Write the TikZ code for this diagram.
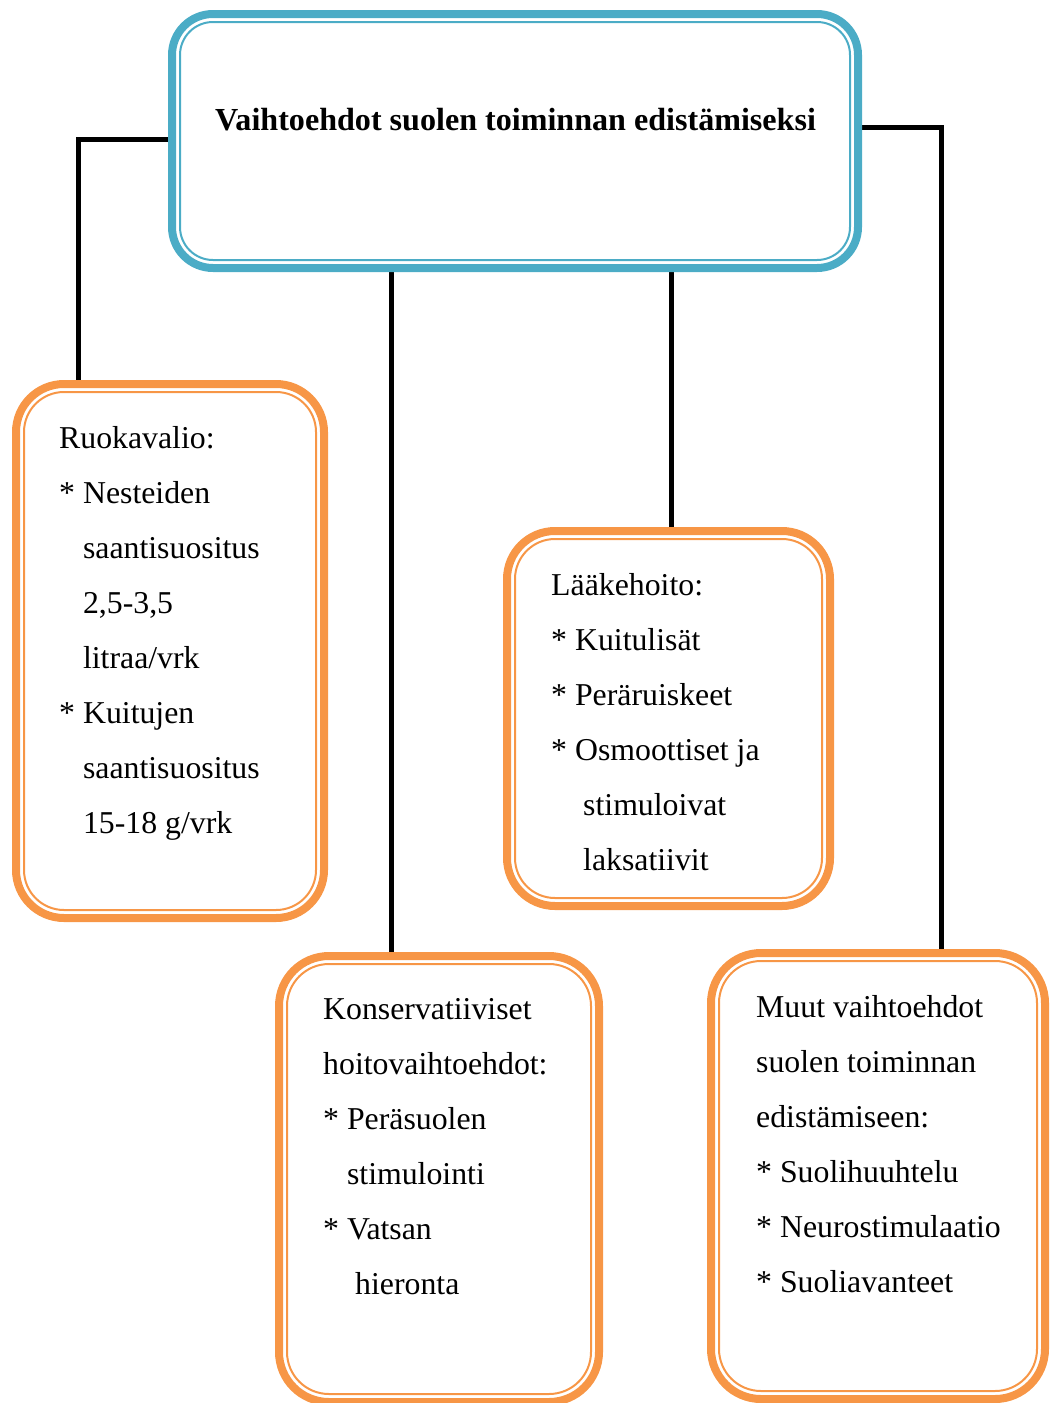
\documentclass[tikz,border=0pt]{standalone}
\usepackage{fontspec}
\setmainfont{Liberation Serif}
\usetikzlibrary{backgrounds,calc}
\definecolor{boxblue}{HTML}{4BACC6}
\definecolor{boxorange}{HTML}{F79646}
\tikzset{
  framebox/.style={draw=#1, line width=8pt, rectangle, inner sep=0pt, outer sep=0pt},
  innerline/.style={draw=#1, line width=2pt},
  conn/.style={draw=black, line width=5pt},
  boxtext/.style={font=\fontsize{31.8}{55}\selectfont, align=left, inner sep=0pt, anchor=north west},
}
\begin{document}
\begin{tikzpicture}[x=1pt,y=-1pt]
\useasboundingbox (0,0) rectangle (1050,1403);
% boxes
\node[framebox=boxblue, rounded corners=41pt, minimum width=686pt, minimum height=254pt] (top) at (515,141) {};
\node[framebox=boxorange, rounded corners=48pt, minimum width=308pt, minimum height=534pt] (ruoka) at (170,651) {};
\node[framebox=boxorange, rounded corners=48pt, minimum width=323pt, minimum height=375pt] (laake) at (668.5,718.5) {};
\node[framebox=boxorange, rounded corners=50pt, minimum width=320pt, minimum height=446pt] (kons) at (439,1179) {};
\node[framebox=boxorange, rounded corners=50pt, minimum width=334pt, minimum height=446pt] (muut) at (878,1176) {};
% inner thin lines
\draw[innerline=boxblue, rounded corners=33pt] ([shift={(8,8)}]top.north west) rectangle ([shift={(-8,-8)}]top.south east);
\draw[innerline=boxorange, rounded corners=40pt] ([shift={(8,8)}]ruoka.north west) rectangle ([shift={(-8,-8)}]ruoka.south east);
\draw[innerline=boxorange, rounded corners=40pt] ([shift={(8,8)}]laake.north west) rectangle ([shift={(-8,-8)}]laake.south east);
\draw[innerline=boxorange, rounded corners=42pt] ([shift={(8,8)}]kons.north west) rectangle ([shift={(-8,-8)}]kons.south east);
\draw[innerline=boxorange, rounded corners=42pt] ([shift={(8,8)}]muut.north west) rectangle ([shift={(-8,-8)}]muut.south east);
% connectors
\begin{pgfonlayer}{background}
\draw[conn] ([yshift=2pt]top.west) -| ([xshift=-92pt]ruoka.north);
\draw[conn] ([yshift=14pt]top.east) -| ([xshift=63pt]muut.north);
\draw[conn] ([xshift=-48pt]kons.north) -- ([xshift=-48pt]kons.north |- top.south);
\draw[conn] ([xshift=2.5pt]laake.north) -- ([xshift=2.5pt]laake.north |- top.south);
\end{pgfonlayer}
% texts
\node[font=\fontsize{32.1}{38}\selectfont\bfseries, inner sep=0pt, anchor=base west] (title) at (215,130) {Vaihtoehdot suolen toiminnan edistämiseksi};
\node[boxtext] (ruokatext) at (59,409.5) {\strut Ruokavalio:\\
\strut * Nesteiden\\
\strut\hphantom{* }saantisuositus\\
\strut\hphantom{* }2,5-3,5\\
\strut\hphantom{* }litraa/vrk\\
\strut * Kuitujen\\
\strut\hphantom{* }saantisuositus\\
\strut\hphantom{* }15-18 g/vrk};
\node[boxtext] (laaketext) at (551,556.5) {\strut Lääkehoito:\\
\strut * Kuitulisät\\
\strut * Peräruiskeet\\
\strut * Osmoottiset ja\\
\strut\hspace*{32pt}stimuloivat\\
\strut\hspace*{32pt}laksatiivit};
\node[boxtext] (konstext) at (323,980.5) {\strut Konservatiiviset\\
\strut hoitovaihtoehdot:\\
\strut * Peräsuolen\\
\strut\hphantom{* }stimulointi\\
\strut * Vatsan\\
\strut\hspace*{32pt}hieronta};
\node[boxtext] (muuttext) at (756,978.5) {\strut Muut vaihtoehdot\\
\strut suolen toiminnan\\
\strut edistämiseen:\\
\strut * Suolihuuhtelu\\
\strut * Neurostimulaatio\\
\strut * Suoliavanteet};
\end{tikzpicture}
\end{document}
